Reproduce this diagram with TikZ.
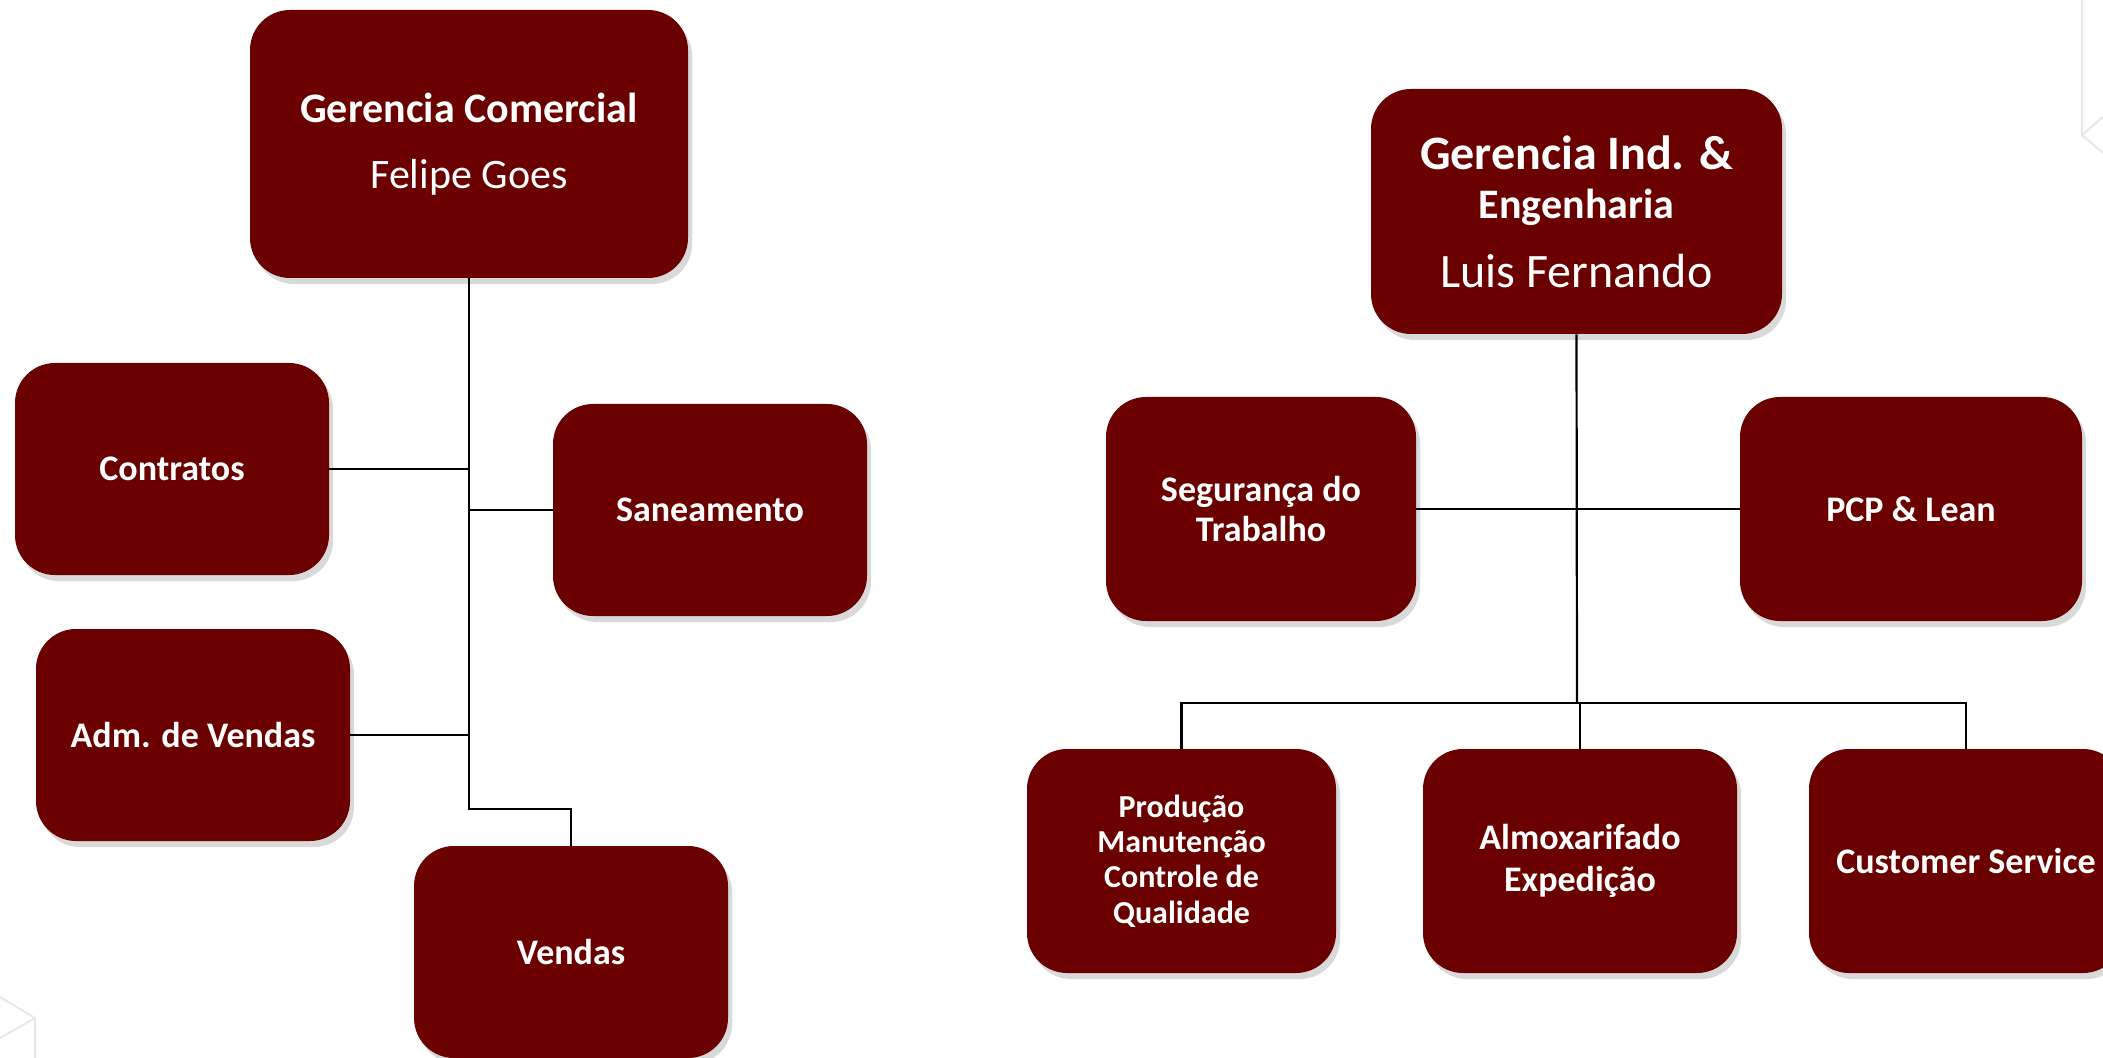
\documentclass[tikz,border=0pt]{standalone}
\usepackage{fontspec}
\setmainfont{Carlito}
\usetikzlibrary{shadows}
\definecolor{boxred}{RGB}{106,0,0}
\definecolor{decogray}{RGB}{232,232,232}
\tikzset{
	orgbox/.style={rectangle, rounded corners=20pt, fill=boxred, text=white, align=center,
		font=\bfseries\fontsize{18}{20}\selectfont, minimum width=157pt, minimum height=106pt,
		drop shadow={shadow xshift=2pt, shadow yshift=-3pt, opacity=0.3}},
	link/.style={draw=black, line width=1.1pt},
}
\begin{document}
\begin{tikzpicture}[x=0.5pt, y=-0.5pt]
		\useasboundingbox (0,0) rectangle (2103,1058);
		% faint background edges
		\draw[decogray, line width=1pt] (2082,0) -- (2082,135) -- (2103,117);
		\draw[decogray, line width=1pt] (2082,135) -- (2103,153);
		\draw[decogray, line width=1pt] (0,997) -- (35,1018) -- (35,1058);
		\draw[decogray, line width=1pt] (35,1018) -- (0,1038);

		% Chart 1: Gerencia Comercial
		\node[orgbox, minimum width=219pt, minimum height=134pt, font=\bfseries\fontsize{21}{25}\selectfont] (gc) at (469,144) {Gerencia Comercial\\[8pt]{\mdseries Felipe Goes}};
		\node[orgbox] (contratos) at (172,469) {Contratos};
		\node[orgbox] (saneamento) at (710,510) {Saneamento};
		\node[orgbox] (admvendas) at (193,735) {Adm. de Vendas};
		\node[orgbox] (vendas) at (571,952) {Vendas};
		\coordinate (vbend) at (469,809);
		\draw[link] (gc.south) -- (vbend) -| (vendas.north);
		\draw[link] (contratos.east) -- (contratos.east -| gc.south);
		\draw[link] (saneamento.west) -- (saneamento.west -| gc.south);
		\draw[link] (admvendas.east) -- (admvendas.east -| gc.south);

		% Chart 2: Gerencia Ind. & Engenharia
		\node[orgbox, minimum width=205.5pt, minimum height=122.5pt, font=\bfseries\fontsize{24}{24.5}\selectfont] (gi) at (1576.5,211.5) {Gerencia Ind. \&\\{\fontsize{21}{24.5}\selectfont Engenharia}\\[10pt]{\mdseries Luis Fernando}};
		\node[orgbox, minimum width=155pt, minimum height=112pt] (seguranca) at (1261,509) {Segurança do\\Trabalho};
		\node[orgbox, minimum width=171pt, minimum height=112pt] (pcp) at (1911,509) {PCP \& Lean};
		\node[orgbox, minimum width=154.5pt, minimum height=112pt, font=\bfseries\fontsize{16}{17.6}\selectfont] (producao) at (1181.5,861) {Produção\\Manutenção\\Controle de\\Qualidade};
		\node[orgbox, minimum height=112pt, font=\bfseries\fontsize{18}{21}\selectfont] (almox) at (1580,861) {Almoxarifado\\Expedição};
		\node[orgbox, minimum height=112pt] (customer) at (1966,861) {Customer Service};
		\coordinate (bus) at (1577,703);
		\draw[link] (gi.south) -- (bus);
		\draw[link] (seguranca.east) -- (pcp.west);
		\draw[link] (producao.north) |- (bus) -| (customer.north);
		\draw[link] (almox.north) -- (almox.north |- bus);
\end{tikzpicture}
\end{document}
